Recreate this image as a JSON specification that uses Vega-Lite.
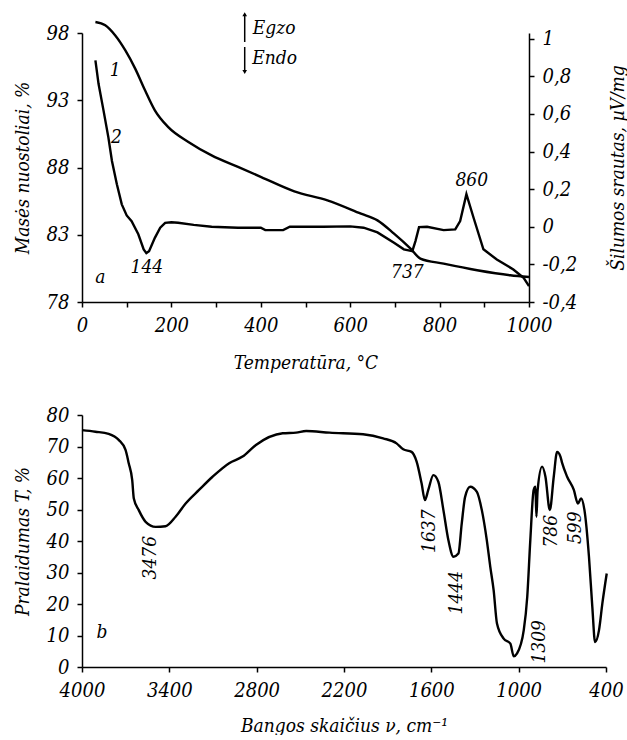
{
  "$schema": "https://vega.github.io/schema/vega-lite/v6.json",
  "padding": {"left": 13, "top": 12, "right": 0, "bottom": 0},
  "spacing": 33,
  "background": "white",
  "datasets": {
    "tg": [
      {"T": 30, "m": 98.82}, {"T": 52, "m": 98.57}, {"T": 74, "m": 97.83}, {"T": 97, "m": 96.7},
      {"T": 119, "m": 95.35}, {"T": 141, "m": 93.74}, {"T": 163, "m": 92.25}, {"T": 193, "m": 91.0},
      {"T": 238, "m": 89.9}, {"T": 290, "m": 88.9}, {"T": 349, "m": 88.04}, {"T": 401, "m": 87.29},
      {"T": 475, "m": 86.23}, {"T": 549, "m": 85.56}, {"T": 624, "m": 84.57}, {"T": 661, "m": 84.07},
      {"T": 698, "m": 83.08}, {"T": 735, "m": 81.97}, {"T": 757, "m": 81.23}, {"T": 809, "m": 80.85},
      {"T": 884, "m": 80.36}, {"T": 958, "m": 79.99}, {"T": 1000, "m": 79.86}
    ],
    "dta": [
      {"T": 30, "h": 0.884}, {"T": 37, "h": 0.76}, {"T": 48, "h": 0.62}, {"T": 59, "h": 0.475},
      {"T": 67, "h": 0.35}, {"T": 78, "h": 0.226}, {"T": 89, "h": 0.119}, {"T": 100, "h": 0.06},
      {"T": 111, "h": 0.03}, {"T": 126, "h": -0.04}, {"T": 138, "h": -0.12}, {"T": 144, "h": -0.14},
      {"T": 150, "h": -0.13}, {"T": 163, "h": -0.059}, {"T": 175, "h": -0.005}, {"T": 186, "h": 0.021},
      {"T": 200, "h": 0.024}, {"T": 215, "h": 0.021}, {"T": 250, "h": 0.01}, {"T": 290, "h": 0.0},
      {"T": 349, "h": -0.005}, {"T": 400, "h": -0.005}, {"T": 410, "h": -0.018}, {"T": 450, "h": -0.018},
      {"T": 465, "h": 0.0}, {"T": 540, "h": 0.0}, {"T": 600, "h": 0.002}, {"T": 630, "h": -0.005},
      {"T": 653, "h": -0.023}, {"T": 661, "h": -0.03}, {"T": 698, "h": -0.085}, {"T": 720, "h": -0.12},
      {"T": 739, "h": -0.13}, {"T": 746, "h": -0.076}, {"T": 754, "h": -0.002}, {"T": 772, "h": 0.0},
      {"T": 809, "h": -0.018}, {"T": 835, "h": -0.014}, {"T": 846, "h": 0.03}, {"T": 860, "h": 0.173},
      {"T": 876, "h": 0.048}, {"T": 898, "h": -0.12}, {"T": 928, "h": -0.174}, {"T": 965, "h": -0.227},
      {"T": 988, "h": -0.272}, {"T": 1000, "h": -0.316}
    ],
    "topLabels": [
      {"T": 74, "m": 95.23, "label": "1"}, {"T": 77, "m": 90.27, "label": "2"},
      {"T": 145, "m": 80.6, "label": "144"}, {"T": 41, "m": 79.86, "label": "a"},
      {"T": 728, "m": 80.23, "label": "737"}, {"T": 872, "m": 87.05, "label": "860"},
      {"T": 430, "m": 98.35, "label": "Egzo"}, {"T": 431, "m": 96.12, "label": "Endo"}
    ],
    "arrowUp": [{"T": 364, "m": 99.4, "m2": 97.33}],
    "arrowDown": [{"T": 364, "m": 96.96, "m2": 95.1}],
    "ir": [
      {"w": 4000, "t": 75.2}, {"w": 3908, "t": 74.7}, {"w": 3817, "t": 74.0}, {"w": 3748, "t": 72.1},
      {"w": 3701, "t": 68.9}, {"w": 3679, "t": 64.7}, {"w": 3655, "t": 59.3}, {"w": 3644, "t": 53.5},
      {"w": 3610, "t": 49.8}, {"w": 3563, "t": 46.1}, {"w": 3494, "t": 44.5}, {"w": 3426, "t": 44.7},
      {"w": 3357, "t": 47.7}, {"w": 3288, "t": 51.9}, {"w": 3196, "t": 56.2}, {"w": 3103, "t": 60.4},
      {"w": 2989, "t": 64.7}, {"w": 2897, "t": 66.8}, {"w": 2805, "t": 70.5}, {"w": 2621, "t": 74.2},
      {"w": 2529, "t": 74.4}, {"w": 2460, "t": 74.9}, {"w": 2299, "t": 74.4}, {"w": 2069, "t": 73.9},
      {"w": 1931, "t": 72.6}, {"w": 1839, "t": 71.0}, {"w": 1793, "t": 69.1}, {"w": 1736, "t": 68.3},
      {"w": 1701, "t": 65.2}, {"w": 1667, "t": 58.3}, {"w": 1644, "t": 53.0}, {"w": 1621, "t": 56.2},
      {"w": 1586, "t": 60.9}, {"w": 1552, "t": 58.8}, {"w": 1517, "t": 49.8}, {"w": 1483, "t": 40.3},
      {"w": 1448, "t": 35.0}, {"w": 1414, "t": 36.0}, {"w": 1391, "t": 45.6}, {"w": 1368, "t": 54.0},
      {"w": 1333, "t": 57.2}, {"w": 1287, "t": 55.6}, {"w": 1253, "t": 49.8}, {"w": 1219, "t": 40.3},
      {"w": 1195, "t": 31.8}, {"w": 1172, "t": 24.4}, {"w": 1149, "t": 13.8}, {"w": 1103, "t": 9.0},
      {"w": 1057, "t": 7.4}, {"w": 1034, "t": 3.4}, {"w": 1011, "t": 4.3}, {"w": 965, "t": 11.7},
      {"w": 941, "t": 22.3}, {"w": 920, "t": 40.3}, {"w": 897, "t": 56.2}, {"w": 885, "t": 57.2},
      {"w": 878, "t": 47.7}, {"w": 870, "t": 56.0}, {"w": 839, "t": 63.6}, {"w": 816, "t": 60.4},
      {"w": 786, "t": 49.8}, {"w": 759, "t": 60.4}, {"w": 736, "t": 68.3}, {"w": 713, "t": 66.8},
      {"w": 701, "t": 64.7}, {"w": 667, "t": 60.4}, {"w": 621, "t": 56.2}, {"w": 593, "t": 51.9},
      {"w": 571, "t": 53.5}, {"w": 548, "t": 49.8}, {"w": 517, "t": 35.0}, {"w": 494, "t": 19.1},
      {"w": 475, "t": 7.9}, {"w": 448, "t": 11.7}, {"w": 425, "t": 20.2}, {"w": 395, "t": 29.7}
    ],
    "irLabels": [
      {"w": 3536, "t": 34.7, "label": "3476"}, {"w": 1615, "t": 43.1, "label": "1637"},
      {"w": 1433, "t": 23.6, "label": "1444"}, {"w": 857, "t": 8.0, "label": "1309"},
      {"w": 777, "t": 43.1, "label": "786"}, {"w": 615, "t": 44.2, "label": "599"}
    ],
    "irLetter": [{"w": 3862, "t": 11.1, "label": "b"}]
  },
  "vconcat": [
    {
      "width": 447,
      "height": 269,
      "resolve": {"scale": {"y": "independent"}},
      "layer": [
        {
          "encoding": {
            "x": {"field": "T", "type": "quantitative",
              "scale": {"domain": [0, 1000], "nice": false},
              "axis": {"title": "Temperatūra, °C", "values": [0, 100, 200, 300, 400, 500, 600, 700, 800, 900, 1000],
                "format": "d", "labelExpr": "datum.value % 200 == 0 ? datum.label : ''", "titlePadding": 18}},
            "y": {"field": "m", "type": "quantitative",
              "scale": {"domain": [78, 98], "nice": false, "zero": false},
              "axis": {"title": "Masės nuostoliai, %", "values": [78, 83, 88, 93, 98], "titlePadding": 14}}
          },
          "layer": [
            {"data": {"name": "tg"}, "mark": {"type": "line", "color": "black", "strokeWidth": 2.4, "interpolate": "monotone"}},
            {"data": {"name": "topLabels"}, "mark": {"type": "text", "align": "center", "baseline": "middle"},
              "encoding": {"text": {"field": "label"}}},
            {"data": {"name": "arrowUp"}, "mark": {"type": "rule", "color": "black", "strokeWidth": 1.5},
              "encoding": {"y2": {"field": "m2"}}},
            {"data": {"name": "arrowUp"}, "mark": {"type": "point", "shape": "triangle-up", "filled": true, "color": "black", "size": 22, "opacity": 1},
              "encoding": {}},
            {"data": {"name": "arrowDown"}, "mark": {"type": "rule", "color": "black", "strokeWidth": 1.5},
              "encoding": {"y2": {"field": "m2"}}},
            {"data": {"name": "arrowDown"}, "mark": {"type": "point", "shape": "triangle-down", "filled": true, "color": "black", "size": 22, "opacity": 1},
              "encoding": {"y": {"field": "m2", "type": "quantitative"}}}
          ]
        },
        {
          "data": {"name": "dta"},
          "mark": {"type": "line", "color": "black", "strokeWidth": 2.4},
          "encoding": {
            "x": {"field": "T", "type": "quantitative", "scale": {"domain": [0, 1000], "nice": false}},
            "y": {"field": "h", "type": "quantitative",
              "scale": {"domain": [-0.4, 1.03], "nice": false, "zero": false},
              "axis": {"orient": "right", "title": "Šilumos srautas, µV/mg", "titleAngle": 270,
                "values": [-0.4, -0.2, 0, 0.2, 0.4, 0.6, 0.8, 1],
                "labelExpr": "abs(datum.value) < 1e-9 ? '0' : abs(datum.value - 1) < 1e-9 ? '1' : (datum.value < 0 ? '-' : '') + replace(format(abs(datum.value), '.1f'), '.', ',')",
                "titlePadding": 51}}
          }
        }
      ]
    },
    {
      "width": 524,
      "height": 252,
      "encoding": {
        "x": {"field": "w", "type": "quantitative",
          "scale": {"domain": [400, 4000], "reverse": true, "nice": false, "zero": false},
          "axis": {"title": "Bangos skaičius ν, cm⁻¹", "values": [4000, 3400, 2800, 2200, 1600, 1000, 400], "format": "d", "titlePadding": 16}},
        "y": {"field": "t", "type": "quantitative",
          "scale": {"domain": [0, 80], "nice": false},
          "axis": {"title": "Pralaidumas T, %", "values": [0, 10, 20, 30, 40, 50, 60, 70, 80], "titlePadding": 14}}
      },
      "layer": [
        {"data": {"name": "ir"}, "mark": {"type": "line", "color": "black", "strokeWidth": 2.4, "interpolate": "monotone"}},
        {"data": {"name": "irLabels"}, "mark": {"type": "text", "align": "center", "baseline": "middle", "angle": 270},
          "encoding": {"text": {"field": "label"}}},
        {"data": {"name": "irLetter"}, "mark": {"type": "text", "align": "center", "baseline": "middle"},
          "encoding": {"text": {"field": "label"}}}
      ]
    }
  ],
  "config": {
    "view": {"stroke": null},
    "axis": {
      "grid": false, "domainColor": "black", "domainWidth": 1.5, "tickColor": "black", "tickWidth": 1.5, "tickSize": 5,
      "labelFont": "DejaVu Serif Condensed", "labelFontStyle": "italic", "labelFontSize": 20, "labelColor": "black",
      "labelFlush": false, "labelOverlap": false, "labelPadding": 8,
      "titleFont": "DejaVu Serif Condensed", "titleFontStyle": "italic", "titleFontSize": 19, "titleFontWeight": "normal", "titleColor": "black"
    },
    "text": {"font": "DejaVu Serif Condensed", "fontStyle": "italic", "fontSize": 19, "color": "black"}
  }
}
